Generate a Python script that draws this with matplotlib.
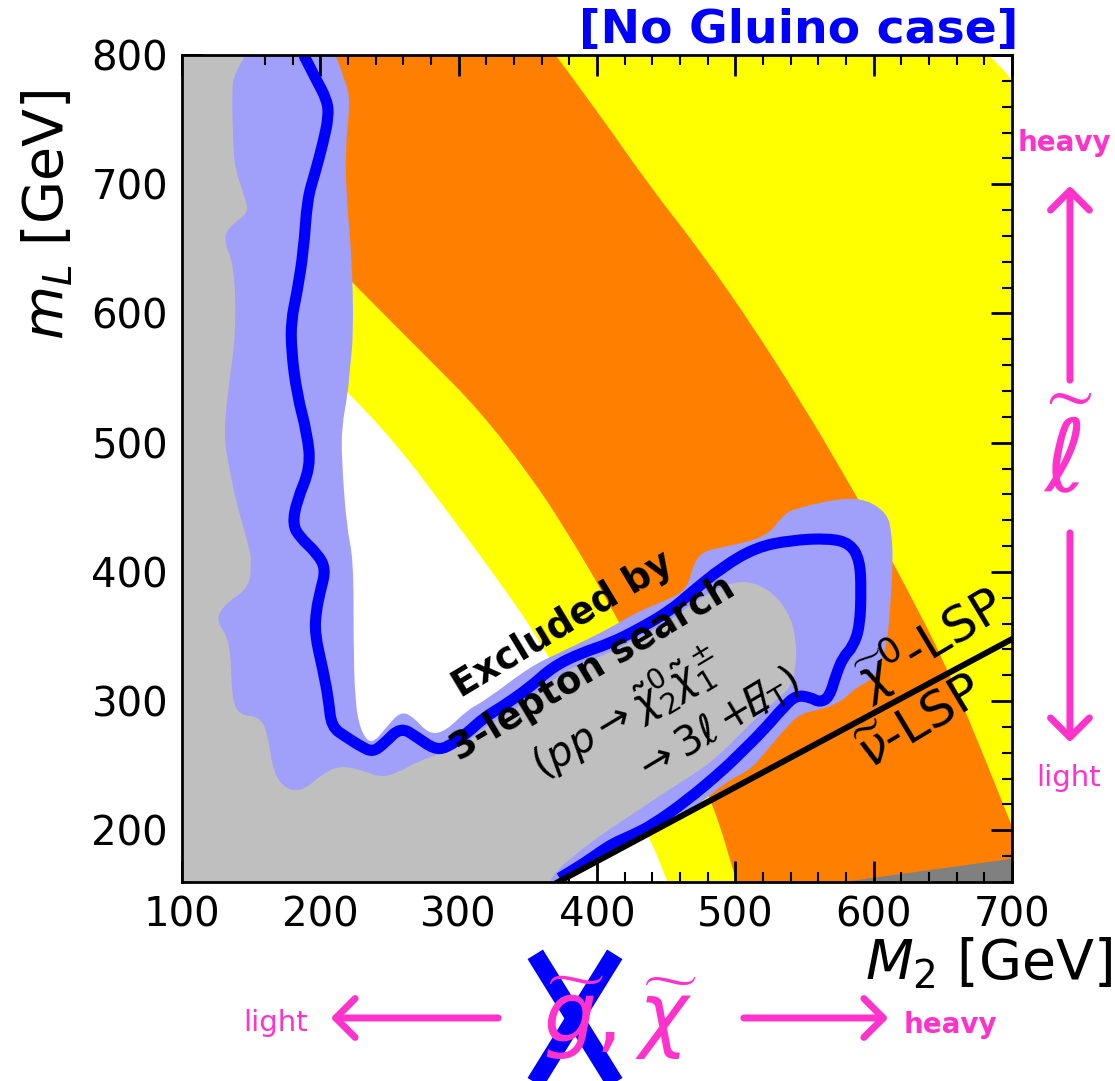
import matplotlib
matplotlib.use('Agg')
import matplotlib.pyplot as plt
from matplotlib.patches import FancyArrowPatch, PathPatch
from matplotlib.lines import Line2D
from matplotlib.path import Path
from matplotlib.ticker import MultipleLocator

#band boundaries in (M2, mL)
yellow_out_x = [683, 692, 700]
yellow_out_y = [800, 791, 780]

orange_out_x = [370, 400, 437, 475, 514, 550, 575, 600, 625, 650, 675, 700]
orange_out_y = [800, 757, 700, 648, 588, 527, 482, 435, 385, 333, 270, 203]

orange_in_x = [150, 200, 223, 279, 315, 352, 376, 405, 440, 465, 484, 501]
orange_in_y = [700, 650, 624, 564, 525, 474, 435, 383, 313, 261, 221, 160]

yellow_in_x = [150, 200, 220, 255, 291, 327, 357, 385, 412, 438, 451]
yellow_in_y = [600, 560, 539, 499, 448, 396, 350, 296, 245, 195, 160]

#dark corner bottom right
dark_x = [578, 700, 700]
dark_y = [160, 178, 160]

#light blue band, outer edge (top to bottom)
lb_x = [211, 219, 221.5, 218, 219, 223, 224, 221.5, 220, 215.5, 215.5, 219, 224, 224, 225, 229, 237,
        248, 258, 267, 279, 291, 306, 320, 352, 376, 407, 429, 450, 465, 470, 477, 491, 523, 535,
        547, 576, 595, 610, 613, 614, 612, 610, 605, 598, 588, 578, 569, 559, 547, 537, 523, 511,
        494, 470, 440]
lb_y = [800, 778, 763, 727, 688, 641, 584, 559, 539, 512, 487, 435, 409, 347, 301, 277, 266,
        280, 292, 288, 274, 277, 293, 301, 327, 339, 355, 369, 378, 386, 407, 416, 419, 427, 445,
        450, 457, 456, 445, 430, 409, 373, 347, 327, 316, 311, 301, 296, 293, 290, 280, 262, 247,
        238, 217, 199]

#grey excluded region edge (top to bottom)
gray_x = [146, 138, 136, 137, 138, 146, 148, 134, 130, 138, 139, 134, 130, 134, 139, 149, 150, 149,
          132, 124, 135, 136, 142, 156, 162, 166, 176, 188, 202, 214, 229, 243, 255, 272, 284, 299,
          306, 318, 332, 352, 368, 388, 409, 424, 450, 476, 499, 516, 530, 540, 544, 544, 540, 532,
          516, 504, 487, 475, 450, 425, 405, 385, 370, 366]
gray_y = [800, 786, 773, 734, 713, 688, 678, 667, 657, 636, 585, 546, 507, 481, 455, 417, 409, 388,
          376, 363, 347, 301, 289, 288, 275, 244, 231, 231, 244, 250, 247, 241, 244, 254, 258, 265,
          268, 279, 288, 302, 317, 329, 337, 346, 360, 381, 393, 391, 381, 365, 347, 327, 311, 303,
          288, 275, 257, 247, 230, 212, 198, 182, 168, 160]

#3-lepton limit (blue line)
blue_x = [188, 196, 205, 206, 202, 196, 190.5, 188, 183, 179, 179, 183, 190.5, 193, 183, 180, 185,
          198, 204, 200, 197, 196, 202, 206, 208, 219, 230, 238, 246, 258, 270, 282, 291, 306, 318,
          332, 352, 368, 388, 409, 429, 453, 467, 491, 515, 540, 568, 583, 590, 591, 590, 585, 578,
          573, 568, 561, 554, 544, 535, 520, 503, 491, 465, 440, 425, 412, 402, 390, 373]
blue_y = [800, 783, 765, 752, 732, 708, 688, 649, 615, 595, 572, 538, 507, 481, 455, 437, 427,
          414, 402, 385, 370, 352, 324, 301, 280, 272, 264.5, 260.6, 267, 280, 272, 263, 263.5, 275,
          287, 296, 311, 326.5, 337, 344.5, 355, 370, 383, 404, 419, 424.5, 426, 422, 409, 386,
          357.5, 342, 334, 321, 303, 299, 303, 304.5, 295.5, 277, 259, 246.5, 223, 204, 196, 190,
          183, 174, 163]

#LSP boundary
lsp_x = [372, 700]
lsp_y = [160, 348]

pink = '#ff33cc'


#smooth path through the read points (quadratic bezier via midpoints)
def smooth(xs, ys):
    pts = list(zip(xs, ys))
    verts = [pts[0]]
    codes = [Path.LINETO]
    for i in range(1, len(pts) - 1):
        m = ((pts[i][0] + pts[i + 1][0]) / 2, (pts[i][1] + pts[i + 1][1]) / 2)
        verts += [pts[i], m]
        codes += [Path.CURVE3, Path.CURVE3]
    verts.append(pts[-1])
    codes.append(Path.LINETO)
    return verts, codes


def region(ax, start, xs, ys, end, color, z):
    verts = [start[0]]
    codes = [Path.MOVETO]
    for p in start[1:]:
        verts.append(p)
        codes.append(Path.LINETO)
    v, c = smooth(xs, ys)
    verts += v
    codes += c
    for p in end:
        verts.append(p)
        codes.append(Path.LINETO)
    verts.append(start[0])
    codes.append(Path.CLOSEPOLY)
    ax.add_patch(PathPatch(Path(verts, codes), facecolor=color, lw=0, zorder=z))


fig = plt.figure(figsize=(11.15, 10.81), dpi=100)
ax = fig.add_axes([0.1632, 0.1841, 0.7444, 0.7650])
ax.set_facecolor('white')

#bands
region(ax, [(100, 160), (100, 800)], yellow_out_x, yellow_out_y, [(700, 160)], '#ffff00', 1)
region(ax, [(100, 160), (100, 800)], orange_out_x, orange_out_y, [(700, 160)], '#ff7f00', 1.1)
region(ax, [(100, 160), (100, 700)], orange_in_x, orange_in_y, [], '#ffff00', 1.2)
region(ax, [(100, 160), (100, 600)], yellow_in_x, yellow_in_y, [], 'white', 1.3)
ax.fill(dark_x, dark_y, color='#808080', lw=0, zorder=1.4)

#excluded regions
region(ax, [(100, 160), (100, 800)], lb_x, lb_y, [(372, 160)], '#a0a0fa', 1.5)
region(ax, [(100, 160), (100, 800)], gray_x, gray_y, [], '#bfbfbf', 1.6)

#lines
v, c = smooth(blue_x, blue_y)
c[0] = Path.MOVETO
ax.add_patch(PathPatch(Path(v, c), fill=False, edgecolor='#0000ff', lw=8, joinstyle='round',
                       capstyle='butt', zorder=2.1))
ax.plot(lsp_x, lsp_y, color='black', lw=4.3, zorder=2.2)

ax.set_xlim(100, 700)
ax.set_ylim(160, 800)
ax.xaxis.set_major_locator(MultipleLocator(100))
ax.xaxis.set_minor_locator(MultipleLocator(20))
ax.yaxis.set_major_locator(MultipleLocator(100))
ax.yaxis.set_minor_locator(MultipleLocator(20))
ax.tick_params(which='both', direction='in', top=True, right=True, labelsize=29, pad=10)
ax.tick_params(which='major', length=15, width=2)
ax.tick_params(which='minor', length=7, width=1.5)
for s in ax.spines.values():
    s.set_linewidth(2)

#texts in the plot
ax.text(375, 359, 'Excluded by', rotation=31, rotation_mode='anchor', ha='center', va='center',
        fontsize=26.5, fontweight='bold', zorder=3)
ax.text(397, 325, '3-lepton search', rotation=31, rotation_mode='anchor', ha='center', va='center',
        fontsize=26.5, fontweight='bold', zorder=3)
ax.text(421, 290, r'$(pp\rightarrow\tilde{\chi}^0_2\tilde{\chi}^\pm_1$', rotation=31, rotation_mode='anchor',
        ha='center', va='center', fontsize=29, zorder=3)
ax.text(486, 280, r'$\rightarrow 3\ell+/\!\!\!\!E_{\mathrm{T}})$', rotation=31, rotation_mode='anchor',
        ha='center', va='center', fontsize=29, zorder=3)
ax.text(640, 345, r'$\widetilde{\chi}^0$-LSP', rotation=31, rotation_mode='anchor', ha='center', va='center',
        fontsize=36, zorder=3)
ax.text(634, 283, r'$\widetilde{\nu}$-LSP', rotation=31, rotation_mode='anchor', ha='center', va='center',
        fontsize=36, zorder=3)

#axis labels
fig.text(0.043, 0.801, r'$m_L$ [GeV]', rotation=90, ha='center', va='center', fontsize=40)
fig.text(0.998, 0.109, r'$M_2$ [GeV]', ha='right', va='center', fontsize=40)
fig.text(0.913, 0.972, '[No Gluino case]', ha='right', va='center', fontsize=34, fontweight='bold', color='#0000ff')

#slepton arrows on the right
fig.text(0.955, 0.868, 'heavy', ha='center', va='center', fontsize=20, fontweight='bold', color=pink)
fig.text(0.958, 0.280, 'light', ha='center', va='center', fontsize=21, color=pink)
fig.text(0.958, 0.574, r'$\widetilde{\ell}$', ha='center', va='center', fontsize=72, color=pink)
fig.add_artist(FancyArrowPatch((0.9596, 0.6457), (0.9596, 0.8307), transform=fig.transFigure,
                               arrowstyle='->,head_length=0.35,head_width=0.35', mutation_scale=40,
                               lw=5, color=pink))
fig.add_artist(FancyArrowPatch((0.9596, 0.5097), (0.9596, 0.3108), transform=fig.transFigure,
                               arrowstyle='->,head_length=0.35,head_width=0.35', mutation_scale=40,
                               lw=5, color=pink))

#gaugino arrows at the bottom
fig.text(0.2475, 0.0537, 'light', ha='center', va='center', fontsize=21, color=pink)
fig.text(0.852, 0.052, 'heavy', ha='center', va='center', fontsize=20, fontweight='bold', color=pink)
fig.text(0.556, 0.058, r'$\widetilde{g},\widetilde{\chi}$', ha='center', va='center', fontsize=60, color=pink)
fig.add_artist(FancyArrowPatch((0.4493, 0.0583), (0.2942, 0.0583), transform=fig.transFigure,
                               arrowstyle='->,head_length=0.35,head_width=0.35', mutation_scale=40,
                               lw=5, color=pink))
fig.add_artist(FancyArrowPatch((0.6646, 0.0583), (0.7991, 0.0583), transform=fig.transFigure,
                               arrowstyle='->,head_length=0.35,head_width=0.35', mutation_scale=40,
                               lw=5, color=pink))

#cross over the gluino
fig.add_artist(Line2D([540/1115, 610/1115], [1-962/1081, 1-1075/1081], transform=fig.transFigure,
                      color='#0000ff', lw=13))
fig.add_artist(Line2D([610/1115, 540/1115], [1-962/1081, 1-1075/1081], transform=fig.transFigure,
                      color='#0000ff', lw=13))

fig.savefig('out.png', dpi=100)
